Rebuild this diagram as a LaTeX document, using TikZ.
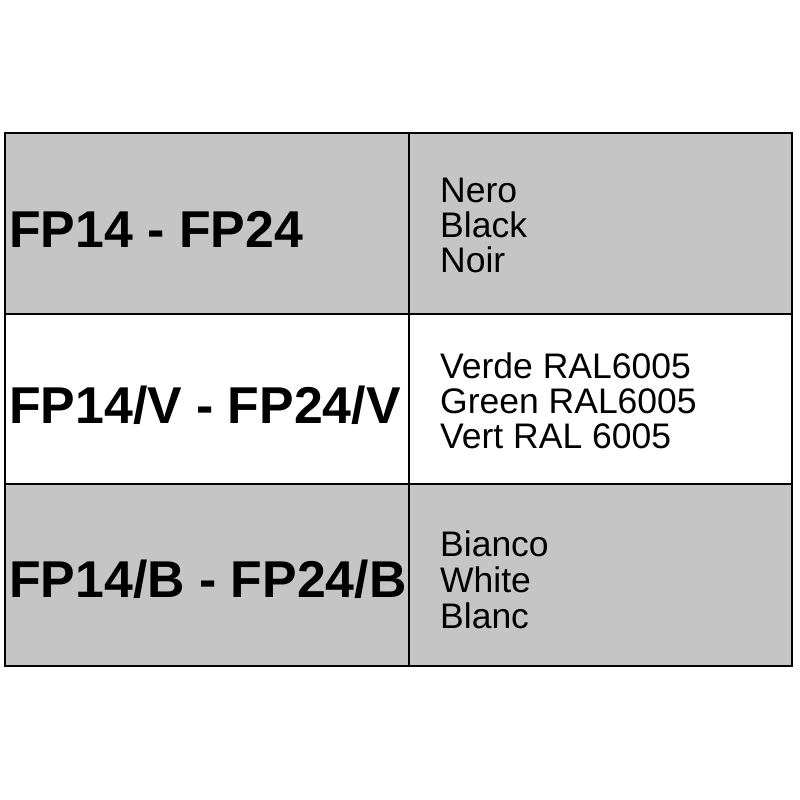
\documentclass[tikz,border=0pt]{standalone}
\usepackage{fontspec}
\setmainfont{Liberation Sans}
\definecolor{cellgray}{RGB}{197,197,197}
\tikzset{
  cell/.style={draw=black, line width=2.6pt},
  big/.style={anchor=base west, inner sep=0pt, font=\fontsize{51.8}{52}\selectfont\bfseries},
  small/.style={anchor=base west, inner sep=0pt, font=\fontsize{35.5}{36}\selectfont}
}
\begin{document}
\begin{tikzpicture}[x=1pt,y=-1pt]
\useasboundingbox (0,0) rectangle (800,800);
% cells
\fill[cellgray] (5,133) rectangle (792,314);
\fill[white] (5,314) rectangle (792,484);
\fill[cellgray] (5,484) rectangle (792,666);
\draw[cell] (5,133) rectangle (792,666);
\draw[cell] (5,314) -- (792,314);
\draw[cell] (5,484) -- (792,484);
\draw[cell] (409,133) -- (409,666);
% left texts
\node[big] (m1) at (9,247) {FP14 - FP24};
\node[big] (m2) at (9,423) {FP14/V - FP24/V};
\node[big] (m3) at (9,597) {FP14/B - FP24/B};
% right texts
\node[small] (a1) at (440,202) {Nero};
\node[small] (a2) at (440,237) {Black};
\node[small] (a3) at (440,272) {Noir};
\node[small] (b1) at (440,378) {Verde RAL6005};
\node[small] (b2) at (440,413) {Green RAL6005};
\node[small] (b3) at (440,448) {Vert RAL 6005};
\node[small] (c1) at (440,556) {Bianco};
\node[small] (c2) at (440,592) {White};
\node[small] (c3) at (440,628) {Blanc};
\end{tikzpicture}
\end{document}
